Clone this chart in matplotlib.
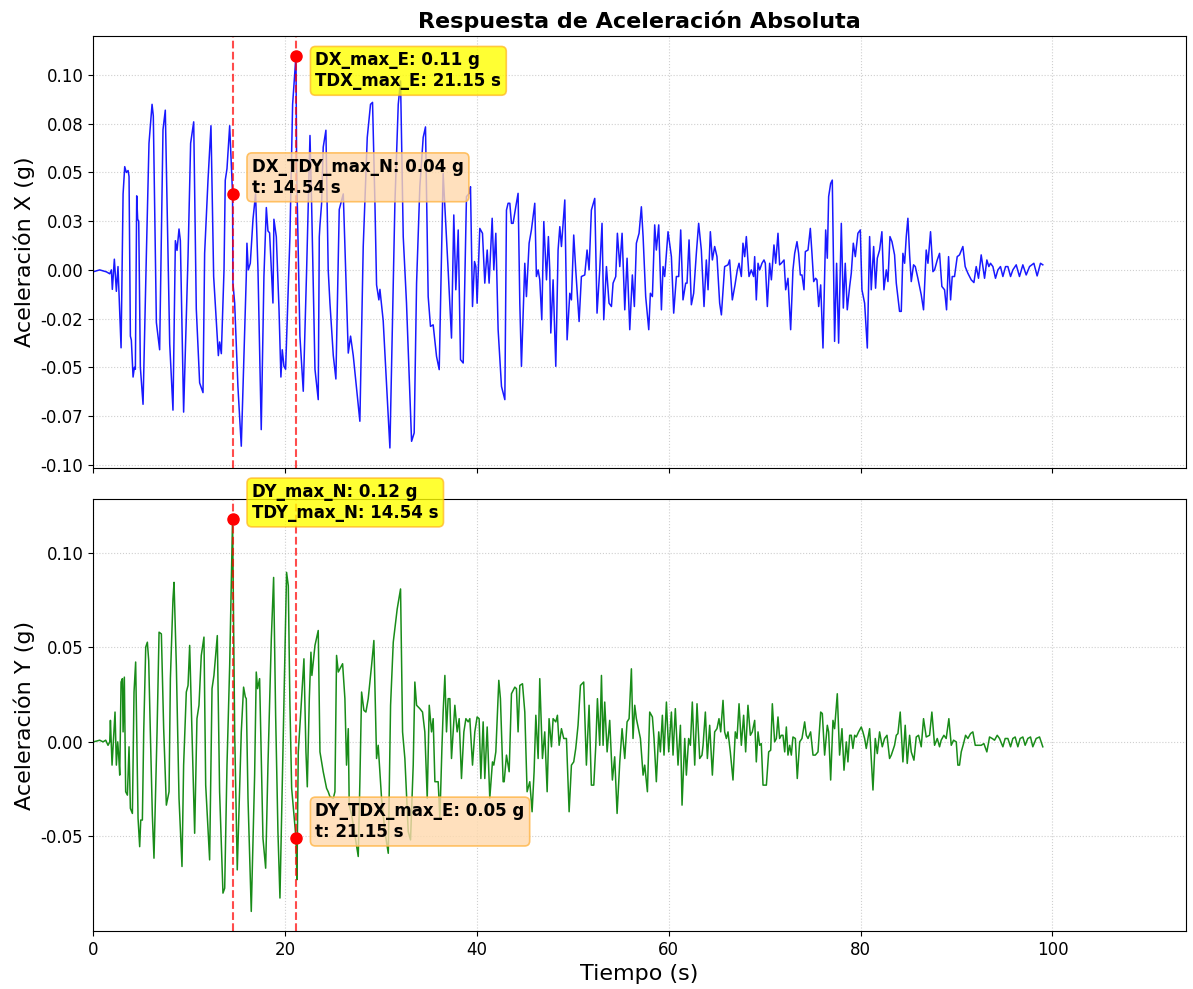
import numpy as np
import matplotlib
matplotlib.use('Agg')
import matplotlib.pyplot as plt

# Acceleration records (time s, accel g)
x_points = [
    (0.00, -0.001), (0.69, 0.000), (1.39, -0.001), (1.74, -0.002), (1.91, 0.000),
    (2.01, -0.010), (2.22, 0.0055), (2.43, -0.011), (2.60, 0.0017), (2.92, -0.040),
    (3.13, 0.039), (3.30, 0.053), (3.47, 0.050), (3.65, 0.051), (3.75, 0.048),
    (3.89, -0.034), (3.99, -0.036), (4.17, -0.055), (4.31, -0.050), (4.41, -0.051),
    (4.55, 0.038), (4.65, 0.026), (4.76, 0.025), (4.93, -0.050), (5.21, -0.069),
    (5.56, 0.0085), (5.83, 0.065), (6.15, 0.085), (6.28, 0.079), (6.60, -0.027),
    (6.94, -0.041), (7.29, 0.072), (7.53, 0.082), (7.99, -0.038), (8.33, -0.072),
    (8.58, 0.015), (8.75, 0.010), (8.96, 0.021), (9.10, 0.015), (9.44, -0.073),
    (9.90, 0.007), (10.17, 0.065), (10.49, 0.076), (10.76, -0.020), (11.11, -0.058),
    (11.46, -0.063), (11.63, 0.0085), (11.98, 0.046), (12.29, 0.074), (12.57, -0.0034),
    (13.06, -0.044), (13.19, -0.037), (13.37, -0.043), (13.65, 0.000), (13.78, 0.046),
    (13.96, 0.052), (14.24, 0.074), (14.54, 0.039), (14.58, -0.0068), (14.76, -0.017),
    (15.10, -0.060), (15.45, -0.0905), (15.97, -0.0034), (16.04, 0.0137), (16.18, 0.000),
    (16.39, 0.0034), (16.67, 0.026), (16.94, 0.039), (17.19, 0.000), (17.53, -0.082),
    (17.81, -0.0034), (18.06, 0.032), (18.23, 0.020), (18.40, 0.019), (18.75, -0.017),
    (18.85, 0.026), (19.10, 0.017), (19.38, -0.020), (19.58, -0.055), (19.72, -0.041),
    (19.90, -0.0495), (20.07, -0.051), (20.52, 0.017), (20.80, 0.085), (21.15, 0.110),
    (21.22, 0.051), (21.56, -0.034), (21.91, -0.0623), (22.26, 0.000), (22.61, 0.069),
    (22.78, 0.034), (23.13, -0.051), (23.47, -0.0666), (23.58, 0.017), (23.65, 0.023),
    (23.82, 0.034), (23.99, 0.063), (24.27, 0.0717), (24.51, 0.000), (24.69, -0.017),
    (25.04, -0.044), (25.31, -0.056), (25.66, 0.031), (26.08, 0.039), (26.60, -0.0427),
    (26.84, -0.034), (27.12, -0.044), (27.81, -0.0777), (28.16, 0.012), (28.58, 0.068),
    (28.92, 0.085), (29.13, 0.086), (29.38, 0.034), (29.55, -0.0077), (29.79, -0.0154),
    (29.90, -0.010), (30.24, -0.026), (30.94, -0.0914), (31.46, 0.034), (31.81, 0.085),
    (32.05, 0.097), (32.33, 0.017), (32.67, -0.017), (33.20, -0.088), (33.47, -0.0837),
    (33.72, -0.0068), (34.06, 0.0427), (34.41, 0.068), (34.65, 0.0734), (34.93, -0.0137),
    (35.17, -0.029), (35.45, -0.0282), (35.80, -0.0444), (36.08, -0.0512), (36.49, 0.0495),
    (37.01, 0.000), (37.36, -0.035), (37.60, 0.0282), (37.81, -0.0102), (38.06, 0.0205),
    (38.30, -0.0461), (38.58, -0.0478), (38.92, 0.0376), (39.20, 0.0393), (39.34, 0.0427),
    (39.55, -0.0188), (39.76, 0.0043), (39.90, 0.0017), (40.03, -0.0171), (40.31, 0.0213),
    (40.59, 0.0188), (40.83, -0.0068), (41.08, 0.0102), (41.28, -0.0068), (41.60, 0.0265),
    (41.77, 0.000), (41.98, 0.0188), (42.22, -0.0307), (42.57, -0.0598), (42.92, -0.0666),
    (43.09, 0.0307), (43.26, 0.0342), (43.44, 0.0342), (43.61, 0.0239), (43.78, 0.0239),
    (44.06, 0.0324), (44.30, 0.0393), (44.48, -0.0171), (44.65, -0.0495), (45.00, 0.0034),
    (45.17, -0.0137), (45.45, 0.0137), (45.69, 0.0205), (46.04, 0.0342), (46.21, -0.0034),
    (46.39, 0.000), (46.56, -0.0051), (46.77, -0.0256), (46.98, 0.0248), (47.26, -0.0051),
    (47.46, 0.0171), (47.60, 0.000), (47.71, -0.0324), (47.95, -0.0051), (48.23, -0.0495),
    (48.47, 0.0102), (48.65, 0.0222), (48.82, 0.012), (49.17, 0.0359), (49.41, -0.0359),
    (49.69, -0.012), (49.86, -0.0154), (50.10, 0.0179), (50.31, 0.000), (50.66, -0.0265),
    (50.90, -0.0034), (51.25, -0.0026), (51.49, 0.0102), (51.70, 0.000), (51.94, 0.0307),
    (52.29, 0.0367), (52.53, -0.0222), (52.81, 0.000), (53.05, 0.0239), (53.23, -0.0256),
    (53.51, 0.0017), (53.78, -0.0171), (54.03, -0.0188), (54.20, -0.0068), (54.48, -0.0034),
    (54.65, 0.0188), (54.90, 0.0017), (55.14, 0.0188), (55.42, -0.0205), (55.66, 0.006),
    (55.94, -0.0307), (56.21, -0.0026), (56.42, -0.0188), (56.63, 0.0137), (56.91, 0.0188),
    (57.15, 0.0324), (57.33, 0.0171), (57.60, -0.0137), (57.92, -0.0307), (58.09, -0.012),
    (58.30, -0.0137), (58.54, 0.0231), (58.71, 0.0102), (58.96, 0.0231), (59.24, -0.0205),
    (59.41, 0.0017), (59.58, -0.0034), (59.93, 0.0196), (60.28, 0.0068), (60.52, -0.0222),
    (60.80, -0.0034), (61.04, -0.0034), (61.25, 0.0205), (61.49, -0.0154), (61.77, -0.0068),
    (61.91, -0.0068), (62.12, 0.0154), (62.36, -0.0179), (62.60, -0.012), (62.88, 0.0085),
    (63.12, 0.0239), (63.40, 0.0102), (63.68, -0.0188), (63.92, 0.0051), (64.10, -0.0102),
    (64.34, 0.0196), (64.55, 0.0051), (64.79, 0.012), (65.03, 0.0068), (65.31, -0.0171),
    (65.49, -0.0231), (65.83, 0.0017), (66.18, 0.0026), (66.35, 0.0051), (66.63, -0.0154),
    (66.91, -0.0077), (67.15, 0.000), (67.33, 0.0034), (67.57, -0.0034), (67.74, 0.0137),
    (67.92, 0.0068), (68.09, 0.0171), (68.37, -0.0034), (68.61, 0.000), (68.85, -0.0034),
    (68.96, 0.0068), (69.13, -0.0154), (69.31, 0.0034), (69.48, 0.000), (69.72, 0.0034),
    (69.93, 0.0051), (70.07, 0.0034), (70.28, -0.0188), (70.52, 0.0034), (70.70, -0.0051),
    (70.97, 0.0128), (71.15, 0.0034), (71.39, 0.0188), (71.56, 0.0026), (71.74, 0.0034),
    (72.02, 0.0051), (72.19, -0.0102), (72.43, -0.0043), (72.71, -0.0307), (72.95, 0.000),
    (73.13, 0.0085), (73.37, 0.0145), (73.54, 0.0085), (73.72, -0.0026), (73.89, -0.0026),
    (74.10, -0.0102), (74.24, 0.0094), (74.52, 0.0102), (74.76, 0.0213), (74.93, 0.0085),
    (75.11, -0.006), (75.31, -0.0043), (75.45, -0.0051), (75.63, -0.0188), (75.84, -0.0077),
    (76.08, -0.0401), (76.36, 0.0205), (76.53, 0.006), (76.67, 0.0376), (76.88, 0.0444),
    (77.05, 0.0461), (77.29, -0.0367), (77.50, 0.0034), (77.71, -0.0376), (77.99, 0.0239),
    (78.20, -0.0196), (78.40, 0.0034), (78.61, -0.0205), (78.86, -0.0085), (79.03, -0.0017),
    (79.24, 0.0137), (79.45, 0.0068), (79.72, 0.0188), (79.97, 0.0205), (80.14, -0.0102),
    (80.42, -0.0171), (80.70, -0.0401), (80.94, 0.0171), (81.11, -0.0102), (81.36, 0.012),
    (81.56, -0.0094), (81.74, 0.006), (81.98, 0.0102), (82.22, 0.0196), (82.43, -0.0102),
    (82.68, 0.000), (82.85, -0.006), (83.06, 0.0171), (83.27, 0.0145), (83.54, 0.0077),
    (83.72, -0.0068), (84.06, -0.0213), (84.24, -0.0213), (84.41, 0.0085), (84.59, 0.0034),
    (84.76, 0.0171), (84.93, 0.0265), (85.11, 0.0077), (85.28, -0.006), (85.52, 0.0026),
    (85.70, 0.0017), (85.97, -0.0043), (86.32, -0.0128), (86.56, -0.0205), (86.84, 0.0102),
    (87.02, 0.0034), (87.29, 0.0196), (87.54, -0.0009), (87.71, 0.000), (87.99, 0.0051),
    (88.23, 0.0085), (88.47, -0.0085), (88.75, -0.0102), (88.96, -0.0205), (89.17, 0.0068),
    (89.38, -0.0154), (89.55, -0.0034), (89.79, -0.0034), (90.07, 0.0068), (90.31, 0.0077),
    (90.66, 0.012), (90.90, 0.0017), (91.18, -0.0017), (91.53, -0.0051), (91.81, -0.0065),
    (92.05, 0.0017), (92.29, -0.0043), (92.57, 0.0077), (92.92, -0.0043), (93.16, 0.0051),
    (93.37, 0.0017), (93.54, 0.0034), (93.79, 0.0017), (94.06, -0.0043), (94.31, 0.000),
    (94.58, 0.0017), (94.83, -0.0034), (95.11, 0.0017), (95.35, 0.0017), (95.63, -0.0034),
    (95.87, 0.000), (96.22, 0.0026), (96.56, -0.0034), (96.91, 0.0026), (97.26, -0.0026),
    (97.61, 0.0017), (98.06, 0.0034), (98.40, -0.0031), (98.75, 0.0034), (98.99, 0.0026),
]

y_points = [
    (0.00, 0.000), (0.35, 0.0004), (0.69, 0.0009), (1.04, 0.000), (1.32, 0.0009),
    (1.56, -0.0018), (1.74, 0.000), (1.81, 0.0114), (1.98, -0.0123), (2.29, 0.0158),
    (2.43, -0.0123), (2.57, 0.000), (2.67, -0.007), (2.78, -0.0176), (2.92, 0.0317),
    (3.06, 0.0335), (3.13, 0.0053), (3.26, 0.0343), (3.40, -0.0264), (3.58, -0.0282),
    (3.75, -0.0026), (3.89, -0.0352), (4.10, -0.0379), (4.27, 0.0264), (4.44, 0.0423),
    (4.69, -0.0405), (4.86, -0.0555), (4.97, -0.0414), (5.14, -0.0414), (5.28, 0.0053),
    (5.49, 0.0502), (5.66, 0.0528), (5.80, 0.0431), (5.97, 0.0053), (6.18, -0.0387),
    (6.35, -0.0616), (6.67, 0.0053), (6.88, 0.0581), (7.12, 0.0572), (7.36, 0.007),
    (7.64, -0.0335), (7.92, -0.0264), (8.06, 0.0335), (8.33, 0.0757), (8.44, 0.0845),
    (8.68, 0.0405), (8.96, -0.0299), (9.27, -0.066), (9.44, -0.0123), (9.72, 0.0264),
    (9.90, 0.0299), (10.07, 0.0511), (10.31, 0.0053), (10.59, -0.0484), (10.83, 0.0123),
    (11.04, 0.0194), (11.28, 0.0458), (11.56, 0.0555), (11.74, -0.0229), (12.15, -0.0625),
    (12.40, 0.0282), (12.60, 0.0352), (12.95, 0.0563), (13.19, -0.0264), (13.54, -0.0801),
    (13.72, -0.0775), (13.96, -0.0123), (14.24, 0.0405), (14.54, 0.118), (14.76, 0.0053),
    (15.03, -0.0678), (15.45, 0.0053), (15.69, 0.029), (15.87, 0.0238), (15.97, 0.0229),
    (16.15, -0.0299), (16.49, -0.0898), (16.84, -0.0176), (17.01, 0.037), (17.15, 0.0282),
    (17.36, 0.0335), (17.71, -0.0511), (17.99, -0.0669), (18.23, -0.0123), (18.58, 0.0546),
    (18.82, 0.0871), (19.03, 0.0141), (19.27, -0.0475), (19.48, -0.0827), (19.83, 0.0053),
    (20.17, 0.0898), (20.35, 0.0827), (20.52, 0.0194), (20.70, -0.0246), (21.15, -0.051),
    (21.25, -0.073), (21.39, -0.0053), (21.63, 0.0141), (21.98, 0.044), (22.19, -0.0053),
    (22.33, -0.0238), (22.54, 0.0229), (22.71, 0.0475), (22.81, 0.0352), (23.13, 0.0511),
    (23.47, 0.059), (23.65, -0.0053), (23.99, -0.0158), (24.34, -0.0246), (24.51, -0.0264),
    (24.69, -0.029), (25.04, -0.0299), (25.21, -0.0264), (25.38, 0.0458), (25.56, 0.037),
    (25.73, 0.0387), (26.01, 0.0414), (26.25, 0.0229), (26.42, -0.0123), (26.60, 0.007),
    (26.70, -0.0335), (26.95, -0.0387), (27.29, -0.0493), (27.64, -0.0607), (27.81, -0.0211),
    (27.99, 0.0264), (28.23, 0.0167), (28.44, 0.0158), (28.68, 0.0229), (29.03, 0.0405),
    (29.27, 0.0537), (29.55, -0.0088), (29.72, -0.0018), (30.07, -0.0299), (30.42, -0.0475),
    (30.77, -0.059), (31.01, 0.0194), (31.29, 0.0528), (31.70, 0.0704), (32.05, 0.081),
    (32.26, 0.0053), (32.50, -0.0088), (32.85, -0.0475), (33.09, -0.0519), (33.37, -0.0123),
    (33.54, 0.0317), (33.72, 0.0194), (34.06, 0.0176), (34.34, 0.0158), (34.58, 0.0053),
    (34.83, -0.0299), (35.04, 0.0194), (35.28, 0.0053), (35.45, 0.0123), (35.63, -0.0211),
    (35.97, -0.0211), (36.15, -0.0405), (36.36, -0.0035), (36.49, 0.0158), (36.67, 0.0352),
    (36.84, 0.0053), (37.01, 0.0229), (37.19, 0.0229), (37.36, -0.0088), (37.54, 0.0053),
    (37.71, 0.0194), (37.95, 0.0053), (38.16, 0.0123), (38.40, -0.0194), (38.65, 0.0053),
    (38.86, 0.0123), (39.10, 0.0106), (39.27, 0.0123), (39.55, -0.0123), (39.79, 0.0053),
    (40.03, 0.0132), (40.24, 0.0123), (40.42, -0.0194), (40.66, 0.0106), (40.83, -0.0194),
    (41.08, 0.0079), (41.35, -0.0299), (41.63, -0.0106), (41.77, -0.0123), (41.98, -0.0053),
    (42.29, 0.0326), (42.46, 0.0229), (42.74, -0.0211), (42.85, -0.0211), (43.09, -0.007),
    (43.37, -0.0158), (43.61, 0.0255), (43.96, 0.029), (44.13, 0.0282), (44.30, 0.0053),
    (44.48, 0.0299), (44.76, 0.0308), (45.00, 0.0158), (45.24, -0.0264), (45.52, -0.0211),
    (45.76, -0.037), (45.97, -0.0158), (46.15, 0.0141), (46.39, -0.0088), (46.56, 0.0335),
    (46.84, -0.0088), (47.08, 0.0053), (47.33, -0.0264), (47.53, 0.0123), (47.78, -0.0026),
    (47.95, 0.0123), (48.23, 0.0106), (48.40, 0.0141), (48.58, -0.0018), (48.82, 0.007),
    (49.06, 0.0018), (49.34, 0.0018), (49.62, -0.037), (49.86, -0.0123), (50.10, -0.0106),
    (50.31, -0.0035), (50.55, 0.0088), (50.80, 0.0299), (51.14, 0.0317), (51.42, -0.0123),
    (51.70, 0.0194), (51.94, -0.0229), (52.19, -0.0229), (52.40, -0.0018), (52.57, 0.0229),
    (52.81, -0.0018), (52.99, 0.0352), (53.16, -0.0018), (53.33, 0.0211), (53.58, -0.0053),
    (53.85, 0.0114), (54.13, -0.0202), (54.37, -0.0079), (54.62, -0.0379), (54.90, -0.0106),
    (55.14, 0.007), (55.42, -0.0088), (55.66, 0.0106), (55.87, 0.0123), (56.11, 0.0387),
    (56.28, 0.0018), (56.46, 0.0194), (56.63, 0.0123), (57.05, 0.0018), (57.33, -0.0176),
    (57.50, -0.0123), (57.78, -0.0264), (58.02, 0.0158), (58.30, 0.0132), (58.47, 0.0018),
    (58.71, -0.0211), (58.96, 0.0053), (59.13, -0.0053), (59.34, 0.0141), (59.51, -0.007),
    (59.76, 0.0211), (60.00, -0.0053), (60.28, 0.0158), (60.45, -0.007), (60.69, 0.0176),
    (60.97, -0.0123), (61.22, 0.0088), (61.39, -0.0335), (61.67, 0.0018), (61.84, -0.0176),
    (62.08, 0.0018), (62.26, -0.0018), (62.46, 0.0211), (62.71, -0.0123), (62.95, 0.0202),
    (63.23, -0.0088), (63.47, -0.007), (63.58, -0.0018), (63.82, 0.0158), (64.03, -0.0088),
    (64.27, 0.0088), (64.55, -0.0176), (64.79, 0.0053), (65.03, 0.007), (65.24, 0.0123),
    (65.42, 0.0053), (65.66, 0.022), (65.83, 0.0053), (66.01, 0.0018), (66.18, 0.0053),
    (66.42, -0.0053), (66.70, -0.0202), (66.94, 0.0053), (67.12, 0.0018), (67.33, 0.0202),
    (67.57, -0.0018), (67.81, 0.0141), (68.02, -0.0053), (68.26, 0.0194), (68.51, 0.0035),
    (68.71, 0.0053), (68.96, 0.0114), (69.13, -0.0106), (69.31, 0.0053), (69.48, -0.0018),
    (69.65, -0.0009), (69.83, -0.0229), (70.18, -0.0229), (70.42, -0.0053), (70.63, -0.0044),
    (70.80, 0.0202), (71.04, 0.000), (71.22, 0.0018), (71.39, 0.0132), (71.56, 0.0018),
    (71.74, 0.0035), (71.91, 0.0035), (72.09, -0.0053), (72.26, 0.0079), (72.43, -0.007),
    (72.61, -0.0018), (72.78, -0.007), (72.95, 0.0026), (73.20, 0.0018), (73.40, -0.0194),
    (73.65, 0.000), (73.89, 0.0018), (74.17, 0.0106), (74.34, 0.0035), (74.52, 0.0018),
    (74.79, 0.0053), (75.04, -0.007), (75.28, -0.007), (75.56, -0.0053), (75.84, 0.0158),
    (76.01, 0.015), (76.25, -0.007), (76.53, 0.0088), (76.67, 0.0053), (76.88, -0.0202),
    (77.12, 0.0114), (77.29, 0.007), (77.57, 0.0255), (77.81, -0.007), (78.06, 0.007),
    (78.27, -0.015), (78.51, 0.000), (78.68, -0.0106), (78.86, 0.0035), (79.03, 0.0035),
    (79.20, -0.0035), (79.38, 0.0035), (79.55, 0.0026), (79.79, 0.0053), (80.07, 0.0079),
    (80.24, 0.0053), (80.42, 0.0018), (80.59, -0.0035), (80.77, 0.0018), (80.94, 0.007),
    (81.29, -0.0255), (81.53, 0.0018), (81.74, -0.0062), (81.98, 0.0053), (82.26, -0.0026),
    (82.50, 0.0018), (82.75, 0.0035), (83.02, -0.0088), (83.20, -0.007), (83.54, -0.0018),
    (83.72, 0.0035), (83.89, 0.0044), (84.13, 0.0158), (84.41, -0.0106), (84.65, 0.0088),
    (84.86, -0.0114), (85.11, 0.0035), (85.28, -0.0053), (85.56, -0.0097), (85.80, 0.0026),
    (86.04, 0.0035), (86.32, -0.0026), (86.56, 0.0123), (86.84, 0.0026), (87.19, 0.0035),
    (87.43, 0.0158), (87.71, -0.0018), (87.99, 0.0018), (88.23, -0.0026), (88.40, 0.0009),
    (88.68, 0.0035), (88.92, 0.0018), (89.20, 0.0123), (89.45, -0.0018), (89.69, 0.0009),
    (89.97, 0.000), (90.14, -0.0123), (90.31, -0.0123), (90.49, -0.0053), (90.73, -0.0009),
    (90.94, 0.0035), (91.18, 0.0018), (91.46, 0.0044), (91.70, 0.0053), (91.95, -0.0018),
    (92.22, -0.0018), (92.57, -0.0018), (92.85, -0.0009), (93.16, -0.0053), (93.44, 0.0026),
    (93.72, 0.0018), (93.96, 0.0009), (94.24, 0.0035), (94.48, 0.0018), (94.83, -0.0026),
    (95.07, 0.0018), (95.35, 0.0018), (95.63, -0.0026), (95.87, 0.0018), (96.11, 0.0026),
    (96.39, -0.0026), (96.63, 0.0018), (96.91, 0.0026), (97.15, -0.0018), (97.43, 0.0018),
    (97.71, 0.0026), (97.95, -0.0026), (98.30, 0.0018), (98.65, 0.0026), (98.99, -0.0026),
]

# key instants (s) and peak values (g)
t_max_E = 21.15     # time of max in X (E)
t_max_N = 14.54     # time of max in Y (N)
dx_max_E = 0.110
dx_at_N = 0.039
dy_max_N = 0.118
dy_at_E = -0.051

x_ticks = [-0.1, -0.075, -0.05, -0.025, 0.0, 0.025, 0.05, 0.075, 0.1]
x_tick_labels = ['-0.10', '-0.07', '-0.05', '-0.02', '0.00', '0.03', '0.05', '0.08', '0.10']
y_ticks = [-0.05, 0.0, 0.05, 0.10]
y_tick_labels = ['-0.05', '0.00', '0.05', '0.10']

t_x, acc_x = np.array(x_points).T
t_y, acc_y = np.array(y_points).T

fig, (ax1, ax2) = plt.subplots(2, 1, sharex=True, figsize=(11.93, 9.89), dpi=100)
fig.subplots_adjust(left=0.078, right=0.994, top=0.9636, bottom=0.0586, hspace=0.074)

box_max = dict(boxstyle='round,pad=0.3', fc=(1, 1, 0, 0.8), ec=(1, 0.7, 0.1, 0.7), lw=1.2)
box_cross = dict(boxstyle='round,pad=0.3', fc=(1, 0.85, 0.68, 0.8), ec=(1, 0.72, 0.3, 0.85), lw=1.2)

# X direction
ax1.plot(t_x, acc_x, color='blue', lw=1.1, alpha=0.9)
for t in (t_max_N, t_max_E):
    ax1.axvline(t, color='red', ls='--', lw=1.5, alpha=0.7)
ax1.plot(t_max_E, dx_max_E, 'o', color='red', ms=8, zorder=5)
ax1.plot(t_max_N, dx_at_N, 'o', color='red', ms=8, zorder=5)
ax1.annotate(f'DX_max_E: {abs(dx_max_E):.2f} g\nTDX_max_E: {t_max_E:.2f} s',
             xy=(t_max_E, dx_max_E), xytext=(14, 3), textcoords='offset points',
             ha='left', va='top', fontsize=12, fontweight='bold', bbox=box_max, zorder=6)
ax1.annotate(f'DX_TDY_max_N: {abs(dx_at_N):.2f} g\nt: {t_max_N:.2f} s',
             xy=(t_max_N, dx_at_N), xytext=(14, -2), textcoords='offset points',
             ha='left', va='bottom', fontsize=12, fontweight='bold', bbox=box_cross, zorder=6)
ax1.set_title('Respuesta de Aceleración Absoluta', fontsize=16, fontweight='bold')
ax1.set_ylabel('Aceleración X (g)', fontsize=16)
ax1.set_yticks(x_ticks, x_tick_labels)
ax1.grid(True, ls=':', alpha=0.6)

# Y direction
ax2.plot(t_y, acc_y, color='green', lw=1.1, alpha=0.9)
for t in (t_max_N, t_max_E):
    ax2.axvline(t, color='red', ls='--', lw=1.5, alpha=0.7)
ax2.plot(t_max_N, dy_max_N, 'o', color='red', ms=8, zorder=5)
ax2.plot(t_max_E, dy_at_E, 'o', color='red', ms=8, zorder=5)
ax2.annotate(f'DY_max_N: {abs(dy_max_N):.2f} g\nTDY_max_N: {t_max_N:.2f} s',
             xy=(t_max_N, dy_max_N), xytext=(14, -2), textcoords='offset points',
             ha='left', va='bottom', fontsize=12, fontweight='bold', bbox=box_max, zorder=6,
             annotation_clip=False)
ax2.annotate(f'DY_TDX_max_E: {abs(dy_at_E):.2f} g\nt: {t_max_E:.2f} s',
             xy=(t_max_E, dy_at_E), xytext=(14, -2), textcoords='offset points',
             ha='left', va='bottom', fontsize=12, fontweight='bold', bbox=box_cross, zorder=6)
ax2.set_ylabel('Aceleración Y (g)', fontsize=16)
ax2.set_xlabel('Tiempo (s)', fontsize=16)
ax2.set_yticks(y_ticks, y_tick_labels)
ax2.grid(True, ls=':', alpha=0.6)
ax2.set_xlim(0, 113.9)

for ax in (ax1, ax2):
    ax.tick_params(labelsize=12)

plt.savefig('out.png', dpi=100)
plt.close()
